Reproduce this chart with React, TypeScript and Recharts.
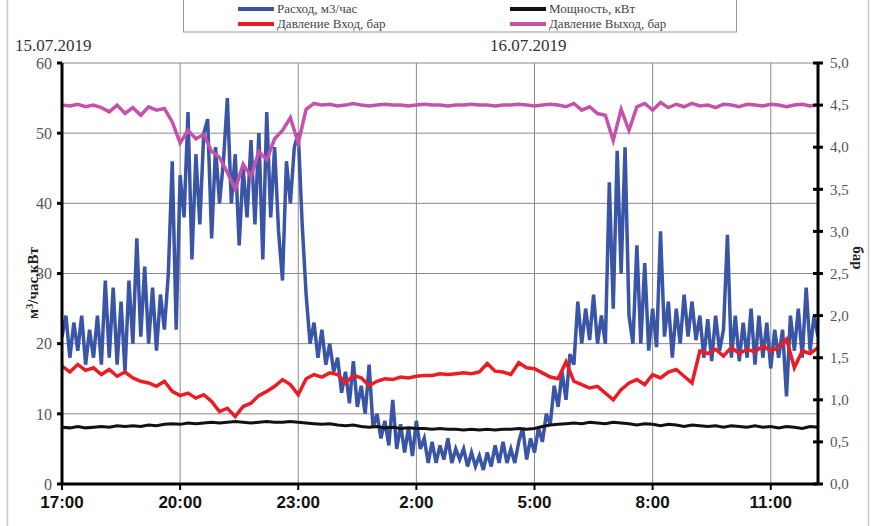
import React from 'react';
import { LineChart, Line, XAxis, YAxis, CartesianGrid } from 'recharts';

// Time step (hours from 17:00) of each series
const FLOW_STEP = 0.1;
const SLOW_STEP = 0.2;

// Расход, м3/час (left axis)
const flow = [
  21, 24, 18, 23, 19, 24, 17, 22, 18, 24, 17,
  29, 18, 28, 17, 26, 16, 29, 20, 35, 21, 31, 20, 28, 19, 27, 22, 30,
  46, 22, 44, 38, 53, 32, 47, 37, 50, 52, 35, 48, 40, 46, 55, 40, 47, 34, 45, 38, 49, 37, 50, 32, 53, 38, 48, 36, 29, 46, 40, 48, 50,
  37, 27, 20, 23, 18, 22, 17, 20, 16, 18, 13, 16, 11.5, 17.5, 11, 14, 10, 17, 8, 10, 6.5, 9, 5.5, 12, 5, 8.5, 4.5, 8, 4, 9, 5, 6.5,
  3, 6, 3, 5.5, 3.5, 6.5, 3, 5, 3.5, 5, 2.5, 4.5, 2.5, 4, 2, 4.5, 2.5, 5.5, 3, 6, 3, 5, 3, 6, 8, 3.5, 6.5, 4.5, 8, 6, 10, 8.5,
  14, 11, 16, 12, 18.5, 17, 26, 20, 25, 20.5, 27, 20, 24, 20, 43, 25, 47.5, 30, 48, 24, 20, 34, 20, 31.5, 19, 25, 19.5, 36, 21, 26, 18, 25, 20, 27, 21, 26,
  20.5, 24, 18, 23.5, 17.5, 24, 19, 22, 35.5, 18, 24, 17.5, 23, 18, 25, 17, 24, 18, 23, 16.5, 22, 18, 22, 12.5, 24, 19, 25, 18, 28, 19, 24, 21,
];

// Мощность, кВт (left axis)
const power = [
  8.1, 8.0, 8.2, 8.0, 8.1, 8.2, 8.1, 8.3, 8.2, 8.3, 8.2, 8.4, 8.3,
  8.5, 8.6, 8.5, 8.7, 8.6, 8.7, 8.8, 8.7, 8.8, 8.9, 8.8, 8.7, 8.8, 8.9, 8.8, 8.8, 8.9, 8.8,
  8.7, 8.6, 8.5, 8.6, 8.4, 8.3, 8.4, 8.2, 8.1, 8.2,
  8.0, 8.1, 7.9, 8.0, 7.9, 7.9, 7.8, 7.9, 7.8, 7.8, 7.7, 7.8, 7.7, 7.8, 7.7, 7.8, 7.8, 7.9, 7.8, 7.9,
  8.2, 8.4, 8.5, 8.6, 8.7, 8.6, 8.8, 8.7, 8.6, 8.8, 8.7, 8.6,
  8.4, 8.6, 8.5, 8.3, 8.5, 8.4, 8.2, 8.4, 8.3, 8.2, 8.3, 8.1,
  8.3, 8.2, 8.1, 8.3, 8.1, 8.2, 8.0, 8.2, 8.1, 7.9, 8.2, 8.1,
];

// Давление Вход, бар (right axis)
const pressureIn = [
  1.40, 1.33, 1.42, 1.35, 1.38, 1.30, 1.36, 1.28, 1.33, 1.26,
  1.22, 1.20, 1.16, 1.22, 1.10, 1.05, 1.08, 1.02, 1.06, 0.98,
  0.86, 0.90, 0.80, 0.92, 0.96, 1.05, 1.10, 1.16, 1.24, 1.18,
  1.06, 1.25, 1.30, 1.27, 1.32, 1.30, 1.20, 1.29, 1.26, 1.17,
  1.22, 1.25, 1.24, 1.27, 1.26, 1.28, 1.29, 1.29, 1.31, 1.30,
  1.31, 1.32, 1.31, 1.33, 1.43, 1.34, 1.33, 1.30, 1.44, 1.38,
  1.37, 1.32, 1.27, 1.25, 1.45, 1.22, 1.18, 1.14, 1.16, 1.08,
  1.00, 1.12, 1.20, 1.24, 1.18, 1.30, 1.26, 1.33, 1.36, 1.28,
  1.20, 1.58, 1.55, 1.60, 1.52, 1.62, 1.55, 1.60, 1.57, 1.64,
  1.58, 1.62, 1.72, 1.38, 1.58, 1.55, 1.62,
];

// Давление Выход, бар (right axis)
const pressureOut = [
  4.50, 4.49, 4.51, 4.48, 4.50, 4.47, 4.42, 4.50, 4.40, 4.47,
  4.38, 4.48, 4.44, 4.46,
  4.30, 4.05, 4.20, 4.10, 4.15, 3.95, 3.88, 3.70, 3.50, 3.80, 3.65, 3.95, 3.85, 4.10, 4.20, 4.35, 4.05, 4.45, 4.52,
  4.50, 4.51, 4.49, 4.50, 4.52, 4.50, 4.49, 4.50, 4.51, 4.50, 4.50, 4.49, 4.50, 4.51, 4.50, 4.50,
  4.49, 4.50, 4.50, 4.51, 4.50, 4.50, 4.49, 4.50, 4.50, 4.51, 4.50, 4.49, 4.50, 4.51, 4.50, 4.48,
  4.52, 4.44, 4.48, 4.40, 4.38, 4.08, 4.45, 4.20, 4.48, 4.52, 4.44, 4.53, 4.47,
  4.51, 4.48, 4.52, 4.49, 4.50, 4.47, 4.51, 4.50, 4.48, 4.51, 4.50, 4.49, 4.51, 4.50, 4.48, 4.50, 4.51, 4.49, 4.50,
];

const xTicks = [0, 3, 6, 9, 12, 15, 18];
const xTickLabels = ['17:00', '20:00', '23:00', '2:00', '5:00', '8:00', '11:00'];
const leftTicks = [0, 10, 20, 30, 40, 50, 60];
const rightTicks = [0, 0.5, 1, 1.5, 2, 2.5, 3, 3.5, 4, 4.5, 5];
const dateLabels = ['15.07.2019', '16.07.2019'];
const seriesNames = ['Расход, м3/час', 'Мощность, кВт', 'Давление Вход, бар', 'Давление Выход, бар'];
const seriesColors = ['#3A55A6', '#111111', '#EC1C24', '#C552AA'];

const toData = (arr: number[], step: number) =>
  arr.map((v, i) => ({ h: Math.round(i * step * 100) / 100, v }));

const flowData = toData(flow, FLOW_STEP);
const powerData = toData(power, SLOW_STEP);
const inData = toData(pressureIn, SLOW_STEP);
const outData = toData(pressureOut, SLOW_STEP);

const W = 875;
const H = 526;
const serif = 'Liberation Serif, Times New Roman, DejaVu Serif, serif';
const sans = 'Liberation Sans, Arial, sans-serif';

const RightTick = (props: any) => {
  const { x, y, payload } = props;
  return (
    <g>
      <line x1={x - 5} x2={x + 5} y1={y} y2={y} stroke="#000" strokeWidth={3} />
      <text x={x + 12} y={y} dy="0.35em" fill="#555" fontSize={15} fontFamily={serif} textAnchor="start">
        {Number(payload.value).toFixed(1).replace('.', ',')}
      </text>
    </g>
  );
};

export default function App() {
  return (
    <div style={{ position: 'absolute', left: 0, top: 0, width: W, height: H, background: '#fff', overflow: 'hidden' }}>
      <LineChart width={W} height={H} margin={{ top: 63, right: 17, bottom: 12, left: 22 }}>
        <CartesianGrid stroke="#8a8a8a" strokeWidth={1} horizontalValues={leftTicks} verticalValues={xTicks} />
        <XAxis
          dataKey="h"
          type="number"
          domain={[0, 19.2]}
          ticks={xTicks}
          allowDataOverflow
          tickFormatter={(v: number) => xTickLabels[xTicks.indexOf(v)]}
          axisLine={{ stroke: '#000', strokeWidth: 3 }}
          tickLine={{ stroke: '#000', strokeWidth: 2 }}
          tickSize={6}
          tickMargin={6}
          height={30}
          tick={{ fill: '#111', fontSize: 17, fontWeight: 'bold', fontFamily: sans }}
        />
        <YAxis
          type="number"
          domain={[0, 60]}
          ticks={leftTicks}
          allowDataOverflow
          width={40}
          axisLine={{ stroke: '#000', strokeWidth: 3 }}
          tickLine={{ stroke: '#000', strokeWidth: 3 }}
          tickSize={5}
          tickMargin={5}
          tick={{ fill: '#555', fontSize: 16, fontFamily: serif }}
        />
        <YAxis
          yAxisId="right"
          orientation="right"
          type="number"
          domain={[0, 5]}
          ticks={rightTicks}
          allowDataOverflow
          width={40}
          axisLine={{ stroke: '#000', strokeWidth: 3 }}
          tickLine={false}
          tickSize={0}
          tickMargin={0}
          tick={<RightTick />}
        />
        <Line data={flowData} dataKey="v" type="linear" stroke={seriesColors[0]} strokeWidth={3.5} dot={false} isAnimationActive={false} name={seriesNames[0]} />
        <Line data={powerData} dataKey="v" type="linear" stroke={seriesColors[1]} strokeWidth={3} dot={false} isAnimationActive={false} name={seriesNames[1]} />
        <Line data={inData} dataKey="v" yAxisId="right" type="linear" stroke={seriesColors[2]} strokeWidth={3.5} dot={false} isAnimationActive={false} name={seriesNames[2]} />
        <Line data={outData} dataKey="v" yAxisId="right" type="linear" stroke={seriesColors[3]} strokeWidth={3.5} dot={false} isAnimationActive={false} name={seriesNames[3]} />
      </LineChart>
      <svg width={W} height={H} style={{ position: 'absolute', left: 0, top: 0, pointerEvents: 'none' }}>
        <line x1={7.5} x2={7.5} y1={0} y2={H} stroke="#c8c8c8" strokeWidth={1.5} />
        <line x1={868.5} x2={868.5} y1={0} y2={H} stroke="#c8c8c8" strokeWidth={1.5} />
        {/* legend box */}
        <rect x={183.5} y={-10} width={553} height={42} fill="#fff" stroke="#999" strokeWidth={1} />
        <line x1={238} x2={274} y1={9} y2={9} stroke={seriesColors[0]} strokeWidth={4} />
        <text x={277} y={13} fontSize={13} fontFamily={serif} fill="#444">{seriesNames[0]}</text>
        <line x1={510} x2={546} y1={9} y2={9} stroke={seriesColors[1]} strokeWidth={4} />
        <text x={549} y={13} fontSize={13} fontFamily={serif} fill="#444">{seriesNames[1]}</text>
        <line x1={238} x2={274} y1={24} y2={24} stroke={seriesColors[2]} strokeWidth={4} />
        <text x={277} y={28} fontSize={13} fontFamily={serif} fill="#444">{seriesNames[2]}</text>
        <line x1={510} x2={546} y1={24} y2={24} stroke={seriesColors[3]} strokeWidth={4} />
        <text x={549} y={28} fontSize={13} fontFamily={serif} fill="#444">{seriesNames[3]}</text>
        {/* dates */}
        <text x={15} y={51} fontSize={17} fontFamily={serif} fill="#333">{dateLabels[0]}</text>
        <text x={490} y={51} fontSize={17} fontFamily={serif} fill="#333">{dateLabels[1]}</text>
        {/* axis titles */}
        <text transform="translate(38,283) rotate(-90)" textAnchor="middle" fontSize={15} fontWeight="bold" fontFamily={serif} fill="#222">
          м<tspan dy={-5} fontSize={10}>3</tspan><tspan dy={5}>/час,кВт</tspan>
        </text>
        <text transform="translate(853,258) rotate(90)" textAnchor="middle" fontSize={15} fontWeight="bold" fontFamily={serif} fill="#222">бар</text>
      </svg>
    </div>
  );
}
